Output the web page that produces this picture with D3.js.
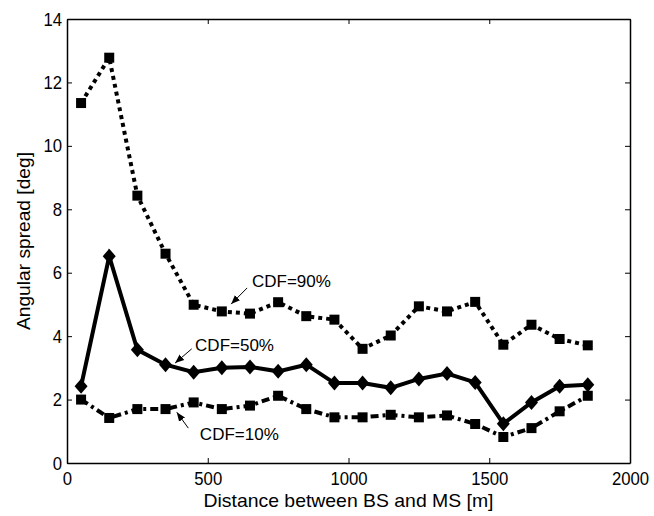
<!DOCTYPE html>
<html>
<head>
<meta charset="utf-8">
<script src="https://cdn.jsdelivr.net/npm/d3@7"></script>
<style>
  html, body { margin: 0; padding: 0; background: #fff; }
  text { font-family: "Liberation Sans", Arial, sans-serif; fill: #000; }
</style>
</head>
<body>
<svg id="chart" width="654" height="516"></svg>
<script>
// ---- data ----
const distances = [50,150,250,350,450,550,650,750,850,950,1050,1150,1250,1350,1450,1550,1650,1750,1850];
const cdf90 = [11.35,12.78,8.43,6.6,4.99,4.78,4.71,5.07,4.63,4.52,3.6,4.02,4.94,4.78,5.08,3.73,4.36,3.91,3.71];
const cdf50 = [2.42,6.52,3.57,3.1,2.86,3.0,3.03,2.89,3.1,2.52,2.52,2.37,2.65,2.82,2.54,1.24,1.91,2.42,2.47];
const cdf10 = [2.0,1.42,1.7,1.7,1.91,1.7,1.81,2.12,1.7,1.44,1.44,1.52,1.44,1.5,1.23,0.82,1.1,1.63,2.12];
const xTicks = [0,500,1000,1500,2000];
const yTicks = [0,2,4,6,8,10,12,14];
const xTitle = "Distance between BS and MS [m]";
const yTitle = "Angular spread [deg]";
// annotations: label text, text anchor point, arrow start, arrow tip (data coords)
const annLabels = ["CDF=90%","CDF=50%","CDF=10%"];
const annText = [[657,5.56],[455,3.52],[472,0.71]];
const annFrom = [[640,5.52],[443,3.6],[431,1.10]];
const annTo   = [[583,5.01],[384,3.15],[390,1.60]];

// ---- layout ----
const svg = d3.select("#chart");
const L = 67, R = 630, T = 19, B = 463;
const x = d3.scaleLinear().domain([0,2000]).range([L,R]);
const y = d3.scaleLinear().domain([0,14]).range([B,T]);
const fmt = d3.format("d");

// axes (ticks inward, MATLAB style)
const axB = svg.append("g").attr("transform",`translate(0,${B})`)
  .call(d3.axisBottom(x).tickValues(xTicks).tickFormat(fmt).tickSize(-5).tickPadding(9).tickSizeOuter(0));
const axT = svg.append("g").attr("transform",`translate(0,${T})`)
  .call(d3.axisTop(x).tickValues(xTicks).tickSize(-5).tickFormat("").tickSizeOuter(0));
const axL = svg.append("g").attr("transform",`translate(${L},0)`)
  .call(d3.axisLeft(y).tickValues(yTicks).tickFormat(fmt).tickSize(-5).tickPadding(5).tickSizeOuter(0));
const axR = svg.append("g").attr("transform",`translate(${R},0)`)
  .call(d3.axisRight(y).tickValues(yTicks).tickSize(-5).tickFormat("").tickSizeOuter(0));
[axB,axT,axL,axR].forEach(g=>{
  g.select(".domain").attr("stroke","#000").attr("stroke-width",1.5);
  g.selectAll(".tick line").attr("stroke","#000").attr("stroke-width",1);
  g.selectAll(".tick text")
    .style("font-size","19px").style("font-family","'Liberation Sans', Arial, sans-serif").attr("fill","#000")
    .attr("textLength",function(){ return this.textContent.length*9.3; })
    .attr("lengthAdjust","spacingAndGlyphs");
});

// titles
svg.append("text").attr("x",(L+R)/2).attr("y",507).attr("text-anchor","middle")
  .style("font-size","18.5px").attr("textLength",290).attr("lengthAdjust","spacingAndGlyphs").text(xTitle);
svg.append("text").attr("transform",`translate(30,${(T+B)/2}) rotate(-90)`).attr("text-anchor","middle")
  .style("font-size","19px").attr("textLength",178).attr("lengthAdjust","spacingAndGlyphs").text(yTitle);

// lines
const line = d3.line().x((d,i)=>x(distances[i])).y(d=>y(d));
const g = svg.append("g");
g.append("path").datum(cdf90).attr("d",line).attr("fill","none").attr("stroke","#000")
  .attr("stroke-width",4).attr("stroke-dasharray","4,4");
g.append("path").datum(cdf10).attr("d",line).attr("fill","none").attr("stroke","#000")
  .attr("stroke-width",4).attr("stroke-dasharray","8,4,3,4");
g.append("path").datum(cdf50).attr("d",line).attr("fill","none").attr("stroke","#000")
  .attr("stroke-width",4).attr("stroke-linejoin","miter");

// markers
const sq = 10;
[cdf90, cdf10].forEach(s=>{
  g.selectAll(null).data(s).enter().append("rect")
    .attr("x",(d,i)=>x(distances[i])-sq/2).attr("y",d=>y(d)-sq/2)
    .attr("width",sq).attr("height",sq).attr("fill","#000");
});
g.selectAll(null).data(cdf50).enter().append("path")
  .attr("transform",(d,i)=>`translate(${x(distances[i])},${y(d)})`)
  .attr("d","M0,-7.5L6.5,0L0,7.5L-6.5,0Z").attr("fill","#000");

// annotations
svg.append("defs").append("marker").attr("id","ah").attr("viewBox","0 0 10 10")
  .attr("refX",10).attr("refY",5).attr("markerWidth",9).attr("markerHeight",9)
  .attr("markerUnits","userSpaceOnUse").attr("orient","auto")
  .append("path").attr("d","M0,1L10,5L0,9Z").attr("fill","#000");
annLabels.forEach((lab,i)=>{
  svg.append("line").attr("x1",x(annFrom[i][0])).attr("y1",y(annFrom[i][1]))
    .attr("x2",x(annTo[i][0])).attr("y2",y(annTo[i][1]))
    .attr("stroke","#000").attr("stroke-width",1).attr("marker-end","url(#ah)");
  svg.append("text").attr("x",x(annText[i][0])).attr("y",y(annText[i][1]))
    .style("font-size","17px").text(lab);
});
</script>
</body>
</html>
